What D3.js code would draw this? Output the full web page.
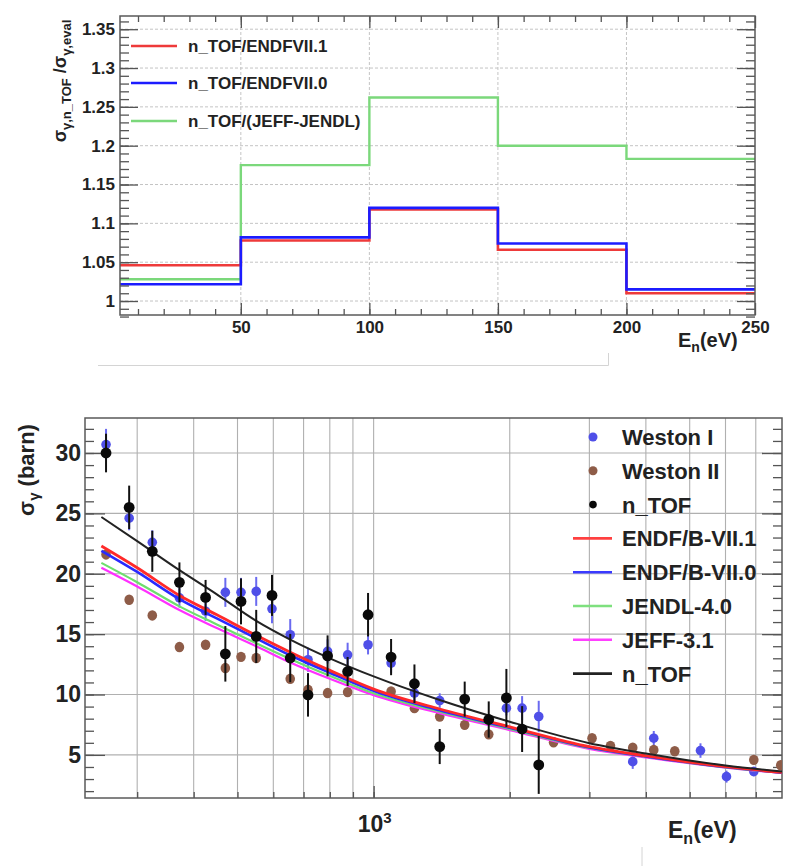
<!DOCTYPE html>
<html>
<head>
<meta charset="utf-8">
<script src="https://cdn.jsdelivr.net/npm/d3@7"></script>
<style>
  html, body { margin: 0; padding: 0; background: #fff; }
  svg { display: block; font-family: "Liberation Sans", Arial, Helvetica, sans-serif; }
  .lbl { font-weight: bold; fill: #222; }
</style>
</head>
<body>
<svg id="chart" width="790" height="866"></svg>
<script>
// ---------- Upper panel: capture cross-section ratio per energy bin ----------
const binEdges = [3, 50, 100, 150, 200, 250];
const ratioEndf71 = [1.046, 1.078, 1.118, 1.066, 1.010];
const ratioEndf70 = [1.0215, 1.082, 1.120, 1.074, 1.015];
const ratioJeffJendl = [1.028, 1.175, 1.262, 1.200, 1.183];
const ratioNames = ["n_TOF/ENDFVII.1", "n_TOF/ENDFVII.0", "n_TOF/(JEFF-JENDL)"];
const ratioTicksY = [1, 1.05, 1.1, 1.15, 1.2, 1.25, 1.3, 1.35];
const ratioTicksX = [50, 100, 150, 200, 250];

// ---------- Lower panel: capture cross section vs neutron energy ----------
const westonIE   = [256, 288, 324, 372, 425, 470, 509, 550, 596, 654, 716, 791, 876, 972, 1093, 1231, 1400, 1966, 2130, 2318, 3741, 4164, 5282, 6030, 6930];
const westonIVal = [30.7, 24.6, 22.6, 18.0, 16.9, 18.46, 18.46, 18.54, 17.1, 14.95, 12.88, 13.57, 13.29, 14.12, 12.6, 10.12, 9.5, 8.87, 8.87, 8.18, 4.44, 6.38, 5.36, 3.2, 3.62];
const westonIErr = [1.3, 1.0, 1.0, 0.8, 0.8, 1.2, 1.2, 1.2, 1.2, 1.3, 1.0, 1.0, 1.0, 0.8, 0.8, 0.8, 0.6, 0.6, 1.0, 1.3, 0.6, 0.6, 0.6, 0.5, 0.4];

const westonIIE   = [256, 288, 324, 372, 425, 470, 509, 550, 654, 716, 791, 876, 1093, 1231, 1400, 1590, 1797, 2500, 3041, 3340, 3741, 4164, 4634, 6930, 7950];
const westonIIVal = [21.6, 17.85, 16.55, 13.93, 14.12, 12.19, 13.12, 13.02, 11.3, 10.39, 10.12, 10.2, 10.25, 8.87, 8.18, 7.49, 6.7, 6.05, 6.38, 5.75, 5.6, 5.41, 5.3, 4.59, 4.14];

const ntofE   = [256, 288, 324, 372, 425, 470, 509, 550, 596, 654, 716, 791, 876, 972, 1093, 1231, 1400, 1590, 1797, 1966, 2130, 2318];
const ntofVal = [30.0, 25.5, 21.86, 19.29, 18.04, 13.37, 17.71, 14.81, 18.21, 13.02, 9.97, 13.2, 11.91, 16.61, 13.1, 10.89, 5.69, 9.62, 7.93, 9.72, 7.14, 4.17];
const ntofErr = [1.6, 1.8, 1.7, 1.65, 1.45, 2.3, 1.9, 2.2, 1.7, 2.0, 1.8, 1.7, 1.2, 1.8, 1.5, 1.6, 1.45, 1.45, 1.5, 2.4, 1.9, 2.4];

const evalE      = [250, 300, 372, 450, 550, 654, 800, 1000, 1400, 2000, 3000, 4000, 6000, 8000];
const evalEndf71 = [22.3, 20.5, 18.2, 16.6, 14.9, 13.5, 12.0, 10.45, 8.8, 7.32, 5.68, 4.92, 4.02, 3.55];
const evalEndf70 = [21.9, 20.15, 17.9, 16.3, 14.65, 13.25, 11.8, 10.3, 8.7, 7.25, 5.62, 4.88, 4.0, 3.53];
const evalJendl  = [20.9, 19.3, 17.3, 15.8, 14.25, 12.95, 11.55, 10.1, 8.58, 7.15, 5.57, 4.85, 3.97, 3.52];
const evalJeff   = [20.5, 18.95, 17.0, 15.5, 14.0, 12.65, 11.3, 9.95, 8.45, 7.05, 5.5, 4.8, 3.95, 3.5];
const evalNtof   = [24.7, 22.7, 20.3, 18.3, 16.1, 14.55, 13.0, 11.5, 9.55, 7.75, 5.97, 5.12, 4.12, 3.62];

const xsTicksY = [5, 10, 15, 20, 25, 30];
const xsGridX = [300, 400, 500, 600, 700, 800, 900, 1000, 2000, 3000, 4000, 5000, 6000, 7000];

const svg = d3.select("#chart");
const frameColor = "#5a5a5a";

// ================= Upper panel =================
const xT = d3.scaleLinear().domain([3, 250]).range([120, 755]);
const yT = d3.scaleLinear().domain([0.982, 1.367]).range([315, 16]);
const upper = svg.append("g");

// dashed grid on major ticks
upper.append("g").selectAll("line").data(ratioTicksY).join("line")
  .attr("x1", xT.range()[0]).attr("x2", xT.range()[1])
  .attr("y1", d => yT(d)).attr("y2", d => yT(d))
  .attr("stroke", "#c4c4c4").attr("stroke-dasharray", "3,2").attr("stroke-width", 1);
upper.append("g").selectAll("line").data(ratioTicksX.slice(0, -1)).join("line")
  .attr("x1", d => xT(d)).attr("x2", d => xT(d))
  .attr("y1", yT.range()[0]).attr("y2", yT.range()[1])
  .attr("stroke", "#c4c4c4").attr("stroke-dasharray", "3,2").attr("stroke-width", 1);

// step histograms
const stepLine = d3.line().x(d => xT(d[0])).y(d => yT(d[1])).curve(d3.curveStepAfter);
function histPoints(vals) {
  const pts = vals.map((v, i) => [binEdges[i], v]);
  pts.push([binEdges[binEdges.length - 1], vals[vals.length - 1]]);
  return pts;
}
const ratioSeries = [
  { vals: ratioJeffJendl, color: "#7bd87b", w: 2.4 },
  { vals: ratioEndf71, color: "#ee3a3a", w: 2.6 },
  { vals: ratioEndf70, color: "#1c1cff", w: 2.6 }
];
ratioSeries.forEach(s => {
  upper.append("path").attr("d", stepLine(histPoints(s.vals)))
    .attr("fill", "none").attr("stroke", s.color).attr("stroke-width", s.w);
});

// axes with inward ticks on all four sides
const yMinorT = d3.range(98, 137).map(d => d / 100);
const xMinorT = d3.range(10, 250, 10);
function styleAxis(g) {
  g.select(".domain").remove();
  g.selectAll(".tick line").attr("stroke", "#555").attr("stroke-width", 1.3);
}
upper.append("g").attr("transform", `translate(${xT.range()[0]},0)`)
  .call(d3.axisLeft(yT).tickValues(yMinorT).tickSize(-9).tickFormat("")).call(styleAxis);
upper.append("g").attr("transform", `translate(${xT.range()[1]},0)`)
  .call(d3.axisRight(yT).tickValues(yMinorT).tickSize(-9).tickFormat("")).call(styleAxis);
upper.append("g").attr("transform", `translate(${xT.range()[1]},0)`)
  .call(d3.axisRight(yT).tickValues(ratioTicksY).tickSize(-18).tickFormat("")).call(styleAxis);
const yAxT = upper.append("g").attr("transform", `translate(${xT.range()[0]},0)`)
  .call(d3.axisLeft(yT).tickValues(ratioTicksY).tickSize(-18).tickPadding(5).tickFormat(d3.format("~g")))
  .call(styleAxis);
yAxT.selectAll("text").attr("class", "lbl").attr("font-size", 17).attr("fill", "#222");

upper.append("g").attr("transform", `translate(0,${yT.range()[0]})`)
  .call(d3.axisBottom(xT).tickValues(xMinorT).tickSize(-6).tickFormat("")).call(styleAxis);
upper.append("g").attr("transform", `translate(0,${yT.range()[1]})`)
  .call(d3.axisTop(xT).tickValues(xMinorT).tickSize(-6).tickFormat("")).call(styleAxis);
upper.append("g").attr("transform", `translate(0,${yT.range()[1]})`)
  .call(d3.axisTop(xT).tickValues(ratioTicksX).tickSize(-12).tickFormat("")).call(styleAxis);
const xAxT = upper.append("g").attr("transform", `translate(0,${yT.range()[0]})`)
  .call(d3.axisBottom(xT).tickValues(ratioTicksX).tickSize(-12).tickPadding(6).tickFormat(d3.format("d")))
  .call(styleAxis);
xAxT.selectAll("text").attr("class", "lbl").attr("font-size", 17).attr("fill", "#222");

upper.append("rect").attr("x", xT.range()[0]).attr("y", yT.range()[1])
  .attr("width", xT.range()[1] - xT.range()[0]).attr("height", yT.range()[0] - yT.range()[1])
  .attr("fill", "none").attr("stroke", frameColor).attr("stroke-width", 1.5);

// axis titles
const xtT = upper.append("text").attr("class", "lbl").attr("x", 678).attr("y", 347).attr("font-size", 20);
xtT.append("tspan").text("E");
xtT.append("tspan").attr("font-size", 14).attr("dy", 5).text("n");
xtT.append("tspan").attr("dy", -5).text("(eV)");

const ytT = upper.append("text").attr("class", "lbl").attr("font-size", 18)
  .attr("text-anchor", "middle").attr("transform", "translate(66,81) rotate(-90)");
ytT.append("tspan").text("σ");
ytT.append("tspan").attr("font-size", 13).attr("dy", 5).text("γ,n_TOF");
ytT.append("tspan").attr("dy", -5).text(" /σ");
ytT.append("tspan").attr("font-size", 13).attr("dy", 5).text("γ,eval");

// legend
const legTopY = [46, 83, 121];
const legTopCol = ["#ee3a3a", "#1c1cff", "#7bd87b"];
ratioNames.forEach((name, i) => {
  upper.append("line").attr("x1", 131).attr("x2", 177).attr("y1", legTopY[i]).attr("y2", legTopY[i])
    .attr("stroke", legTopCol[i]).attr("stroke-width", 2.4);
  upper.append("text").attr("class", "lbl").attr("x", 188).attr("y", legTopY[i] + 6)
    .attr("font-size", 17).text(name);
});

// thin separator rule below the upper panel
svg.append("path").attr("d", "M98,365.5H608.5V353").attr("fill", "none").attr("stroke", "#d4d4d4").attr("stroke-width", 1);

// ================= Lower panel =================
const xB = d3.scaleLog().domain([230, 8000]).range([85, 782]);
const yB = d3.scaleLinear().domain([1.43, 32.9]).range([798, 418]);
const bot = svg.append("g");
const clip = svg.append("defs").append("clipPath").attr("id", "plotclip");
clip.append("rect").attr("x", 85).attr("y", 418).attr("width", 697).attr("height", 380);

bot.append("g").selectAll("line").data(xsGridX).join("line")
  .attr("x1", d => xB(d)).attr("x2", d => xB(d)).attr("y1", 418).attr("y2", 798)
  .attr("stroke", "#b0b0b0").attr("stroke-width", 1.1);
bot.append("g").selectAll("line").data(xsTicksY).join("line")
  .attr("x1", 85).attr("x2", 782).attr("y1", d => yB(d)).attr("y2", d => yB(d))
  .attr("stroke", "#b0b0b0").attr("stroke-width", 1.1);

const yMinorB = d3.range(2, 33);
bot.append("g").attr("transform", "translate(85,0)")
  .call(d3.axisLeft(yB).tickValues(yMinorB).tickSize(-9).tickFormat("")).call(styleAxis);
bot.append("g").attr("transform", "translate(782,0)")
  .call(d3.axisRight(yB).tickValues(yMinorB).tickSize(-9).tickFormat("")).call(styleAxis);
bot.append("g").attr("transform", "translate(782,0)")
  .call(d3.axisRight(yB).tickValues(xsTicksY).tickSize(-20).tickFormat("")).call(styleAxis);
const yAxB = bot.append("g").attr("transform", "translate(85,0)")
  .call(d3.axisLeft(yB).tickValues(xsTicksY).tickSize(-20).tickPadding(4).tickFormat(d3.format("d")))
  .call(styleAxis);
yAxB.selectAll("text").attr("class", "lbl").attr("font-size", 23).attr("fill", "#222");
bot.append("g").attr("transform", "translate(0,798)")
  .call(d3.axisBottom(xB).tickValues(xsGridX).tickSize(-6).tickFormat("")).call(styleAxis);
bot.append("g").attr("transform", "translate(0,798)")
  .call(d3.axisBottom(xB).tickValues([1000]).tickSize(-12).tickFormat("")).call(styleAxis);

bot.append("rect").attr("x", 85).attr("y", 418).attr("width", 697).attr("height", 380)
  .attr("fill", "none").attr("stroke", frameColor).attr("stroke-width", 1.5);

// 10^3 tick label
const t3 = bot.append("text").attr("class", "lbl").attr("x", xB(1000) - 16).attr("y", 832).attr("font-size", 23);
t3.append("tspan").text("10");
t3.append("tspan").attr("font-size", 15).attr("dy", -9).text("3");

const xtB = bot.append("text").attr("class", "lbl").attr("x", 668).attr("y", 838).attr("font-size", 23);
xtB.append("tspan").text("E");
xtB.append("tspan").attr("font-size", 16).attr("dy", 6).text("n");
xtB.append("tspan").attr("dy", -6).text("(eV)");

const ytB = bot.append("text").attr("class", "lbl").attr("font-size", 22)
  .attr("text-anchor", "middle").attr("transform", "translate(34,470) rotate(-90)");
ytB.append("tspan").text("σ");
ytB.append("tspan").attr("font-size", 15).attr("dy", 5).text("γ");
ytB.append("tspan").attr("dy", -5).text(" (barn)");

const plot = bot.append("g").attr("clip-path", "url(#plotclip)");

// Weston I points with error bars
const wI = westonIE.map((e, i) => ({ e, v: westonIVal[i], s: westonIErr[i] }));
plot.append("g").selectAll("line").data(wI).join("line")
  .attr("x1", d => xB(d.e)).attr("x2", d => xB(d.e))
  .attr("y1", d => yB(d.v - d.s)).attr("y2", d => yB(d.v + d.s))
  .attr("stroke", "#6a6af0").attr("stroke-width", 2);
plot.append("g").selectAll("circle").data(wI).join("circle")
  .attr("cx", d => xB(d.e)).attr("cy", d => yB(d.v)).attr("r", 4.8).attr("fill", "#4f4fe8");

// Weston II points
plot.append("g").selectAll("ellipse").data(westonIIE.map((e, i) => ({ e, v: westonIIVal[i] }))).join("ellipse")
  .attr("cx", d => xB(d.e)).attr("cy", d => yB(d.v)).attr("rx", 4.8).attr("ry", 5.2).attr("fill", "#8e5c48");

// evaluated and fitted curves
const curve = d3.line().x((d, i) => xB(evalE[i])).y(d => yB(d)).curve(d3.curveMonotoneX);
const evalSeries = [
  { vals: evalJeff, color: "#ff30ff", w: 2.2 },
  { vals: evalJendl, color: "#6ede6e", w: 2.2 },
  { vals: evalEndf70, color: "#2a2aff", w: 2.6 },
  { vals: evalEndf71, color: "#ff2a2a", w: 2.8 },
  { vals: evalNtof, color: "#222", w: 2.0 }
];
evalSeries.forEach(s => {
  plot.append("path").attr("d", curve(s.vals)).attr("fill", "none")
    .attr("stroke", s.color).attr("stroke-width", s.w);
});

// n_TOF points with error bars
const nt = ntofE.map((e, i) => ({ e, v: ntofVal[i], s: ntofErr[i] }));
plot.append("g").selectAll("line").data(nt).join("line")
  .attr("x1", d => xB(d.e)).attr("x2", d => xB(d.e))
  .attr("y1", d => yB(d.v - d.s)).attr("y2", d => yB(d.v + d.s))
  .attr("stroke", "#111").attr("stroke-width", 2);
plot.append("g").selectAll("circle").data(nt).join("circle")
  .attr("cx", d => xB(d.e)).attr("cy", d => yB(d.v)).attr("r", 5.4).attr("fill", "#0a0a0a");

// legend
const legB = [
  { name: "Weston I", type: "dot", color: "#4f4fe8", r: 4.5 },
  { name: "Weston II", type: "dot", color: "#8e5c48", r: 4.5 },
  { name: "n_TOF", type: "dot", color: "#0a0a0a", r: 3.8 },
  { name: "ENDF/B-VII.1", type: "line", color: "#ff4040" },
  { name: "ENDF/B-VII.0", type: "line", color: "#3a3aff" },
  { name: "JENDL-4.0", type: "line", color: "#7ee07e" },
  { name: "JEFF-3.1", type: "line", color: "#ff40ff" },
  { name: "n_TOF", type: "line", color: "#222" }
];
legB.forEach((d, i) => {
  const cy = 437 + i * 33.8;
  if (d.type === "dot") {
    bot.append("circle").attr("cx", 593).attr("cy", cy).attr("r", d.r).attr("fill", d.color);
  } else {
    bot.append("line").attr("x1", 573).attr("x2", 612).attr("y1", cy).attr("y2", cy)
      .attr("stroke", d.color).attr("stroke-width", 2.6);
  }
  bot.append("text").attr("class", "lbl").attr("x", 622).attr("y", cy + 8).attr("font-size", 22).text(d.name);
});

// short rule at the bottom edge
svg.append("line").attr("x1", 642).attr("x2", 642).attr("y1", 847).attr("y2", 866)
  .attr("stroke", "#d4d4d4").attr("stroke-width", 1);
</script>
</body>
</html>
